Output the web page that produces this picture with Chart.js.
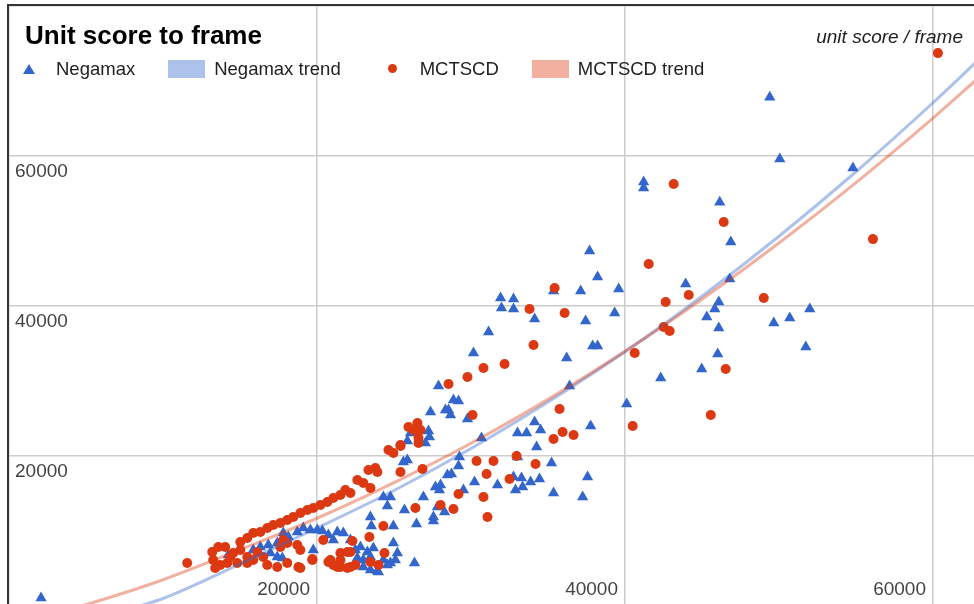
<!DOCTYPE html>
<html>
<head>
<meta charset="utf-8">
<script src="https://cdn.jsdelivr.net/npm/chart.js@4/dist/chart.umd.min.js"></script>
<style>
  html, body { margin:0; padding:0; background:#fff; overflow:hidden; width:974px; height:604px; }
  body { position:relative; font-family:'Liberation Sans', Arial, sans-serif; }
  #grafico { position:absolute; left:-3px; top:-14px; }
  .marco { position:absolute; left:7px; top:4px; right:-5px; bottom:-5px; border-left:2px solid #333; border-top:2px solid #333; pointer-events:none; }
  .titulo { position:absolute; left:25px; top:20px; font-size:26px; line-height:30px; font-weight:bold; color:#000; }
  .unidad { position:absolute; right:11px; top:22px; font-size:19px; line-height:30px; font-style:italic; color:#222; }
  .leyenda { position:absolute; left:10px; top:59px; height:19px; display:flex; align-items:center; font-size:18.5px; line-height:19px; color:#222; }
  .item { display:flex; align-items:center; margin-right:33px; white-space:nowrap; }
  .marca { width:37px; height:19px; display:flex; align-items:center; justify-content:center; margin-right:9px; }
  .triangulo { width:0; height:0; border-left:6.5px solid transparent; border-right:6.5px solid transparent; border-bottom:10px solid; }
  .punto { width:9px; height:9px; border-radius:50%; }
  .franja { width:37px; height:18px; }
</style>
</head>
<body>
<canvas id="grafico" width="977" height="640"></canvas>
<div class="marco"></div>
<div class="titulo">Unit score to frame</div>
<div class="unidad">unit score / frame</div>
<div class="leyenda" id="leyenda"></div>
<script>
// ticks y etiquetas de los ejes
const xTicks = [0, 20000, 40000, 60000];
const xTickLabels = ['20000', '40000', '60000'];
const yTickLabels = ['20000', '40000', '60000'];

// Negamax (triangulos)
const negamaxX = [2080, 49400, 50050, 54800, 46150, 46870, 41210, 41210, 37700, 38220, 37120, 39590, 43940, 46800, 39330,
  46090, 45830, 45310, 46090, 49660, 50700, 52000, 51740, 46020, 44980, 42320, 40110, 31920, 32760, 31980, 32760, 35360,
  34130, 37440, 31140, 30160, 37900, 38220, 36210, 27890, 36400, 28860, 29190, 28540, 28670, 27370, 29770, 25870, 27240,
  27300, 27040, 34130, 33020, 33610, 34520, 37770, 30680, 34260, 29250, 25610, 29190, 35230, 33020, 28730, 28020, 27950,
  30230, 31720, 32760, 33280, 33870, 34450, 32890, 33350, 35360, 37570, 37250, 26910, 29510, 24570, 23470, 23530, 24960,
  25680, 26460, 27560, 28280, 19570, 20350, 20740, 21320, 21710, 21060, 19760, 24960, 25220, 25090, 26330, 23920, 24570,
  14240, 15860, 16320, 16840, 17420, 17810, 18140, 18720, 19110, 20020, 22170, 16970, 17420, 17750, 22490, 22820, 23270,
  23660, 22620, 23010, 23470, 24310, 24770, 23010, 23470, 23990, 24310, 24770, 26070, 28340, 27690, 27820, 27560, 28470,
  25870];
const negamaxY = [1070, 67850, 59590, 58390, 53850, 48520, 56520, 55720, 47320, 43860, 41990, 42260, 42920, 43590, 39060,
  40520, 39590, 38520, 37060, 37720, 38390, 39590, 34520, 33590, 31590, 30390, 26930, 41060, 40920, 39720, 39590, 41990,
  38260, 37990, 36520, 33720, 34660, 34660, 33060, 29330, 29330, 27460, 27330, 26130, 25460, 25860, 24930, 22000, 23330,
  22530, 21730, 24530, 23060, 23060, 23460, 23990, 22400, 21200, 19860, 19200, 18660, 19060, 19860, 17600, 16130, 15460,
  16530, 16130, 17200, 17060, 16530, 16930, 15460, 15860, 15060, 17200, 14530, 14530, 15460, 13330, 11860, 10660, 10660,
  12800, 10930, 11330, 12530, 10130, 10000, 9460, 9860, 9730, 8800, 7460, 8400, 7060, 6130, 5730, 4670, 5470,
  6800, 7460, 7860, 8130, 8400, 9730, 9200, 9860, 10400, 10130, 8800, 7060, 6530, 6400, 7460, 7860, 7200,
  7730, 6400, 6130, 6530, 6130, 5730, 5200, 4800, 4530, 14530, 14530, 23060, 26130, 15860, 13200, 11860, 17460,
  19460];

// MCTSCD (circulos)
const mctscdX = [60320, 56100, 43160, 46410, 41540, 42640, 44140, 49010, 42510, 42900, 40630, 46540, 45570, 40500, 35430,
  33800, 36080, 34060, 32180, 30810, 29770, 28540, 30100, 25940, 26520, 26260, 26590, 26590, 25420, 35750, 35950, 36660,
  35360, 32960, 30360, 31460, 34190, 26850, 25420, 31010, 32500, 29190, 30810, 26390, 28020, 28860, 31070, 24310, 20410,
  22300, 23400, 24380, 18920, 19700, 20740, 21060, 21520, 21970, 21520, 21970, 22490, 23470, 23990, 18920, 21520, 11570,
  13200, 13590, 14040, 13260, 13720, 14370, 13390, 15020, 15470, 15860, 16320, 16770, 17160, 17620, 18070, 18460, 18920,
  19370, 19760, 20220, 20670, 21060, 21520, 21840, 22170, 22620, 23010, 23470, 23340, 23790, 23920, 24640, 24960, 25420,
  26720, 14560, 15470, 15860, 16120, 16510, 15470, 14820, 14170, 16770, 17420, 18070, 18790, 18070, 18720, 17620, 17810,
  19700, 20870, 22170, 21320, 22170, 15020];
const mctscdY = [73720, 48920, 56260, 51190, 45590, 40530, 41460, 41060, 37190, 36660, 33730, 31590, 25460, 24000, 42390,
  39590, 39060, 34790, 32260, 31730, 30530, 29590, 25460, 23860, 24390, 23460, 22400, 21730, 21330, 26260, 23200, 22800,
  22260, 20000, 19330, 19330, 18930, 18260, 17860, 17600, 16930, 14930, 14530, 13060, 13460, 12930, 11860, 10660, 8800,
  8660, 9200, 7060, 7460, 6260, 5860, 5470, 7060, 7200, 5200, 5070, 5470, 5860, 5470, 5070, 6130, 5730,
  7200, 7860, 7860, 6130, 5470, 6530, 5070, 8530, 9060, 9730, 9860, 10400, 10800, 11060, 11460, 11860, 12400,
  12800, 13060, 13460, 13860, 14400, 14800, 15460, 15060, 16800, 16400, 15730, 18130, 18400, 17860, 20800, 20400, 21460,
  23460, 7060, 6530, 6130, 7200, 6530, 5730, 5730, 5730, 5470, 5200, 5730, 5200, 8400, 8130, 7860, 8800,
  6130, 6130, 5200, 5200, 7200, 7460];

// lineas de tendencia
const trendX = [2000, 4000, 6000, 8000, 10000, 15000, 20000, 25000, 30000, 35000, 40000, 45000, 50000, 55000, 60000, 63000];
const negamaxTrendY = [-3900, -2700, -1500, -300, 1000, 5600, 10400, 15400, 21000, 27200, 33900, 41300, 49300, 57900, 67100, 72900];
const mctscdTrendY = [-1500, -400, 800, 2100, 3500, 7500, 11700, 16450, 21700, 27550, 33950, 40900, 48400, 56450, 65050, 70500];

function Puntos(xs, ys){
    return xs.map((x, i) => ({x: x, y: ys[i]}));
}

Chart.defaults.font.family = "'Liberation Sans', Arial, sans-serif";

const data = {
    datasets: [
        {
            label: 'Negamax',
            data: Puntos(negamaxX, negamaxY),
            pointStyle: 'triangle',
            pointRadius: 6.5,
            pointBorderWidth: 0,
            backgroundColor: '#3366cc',
            borderColor: '#3366cc',
            order: 4
        },
        {
            label: 'Negamax trend',
            data: Puntos(trendX, negamaxTrendY),
            showLine: true,
            pointRadius: 0,
            borderWidth: 3,
            borderColor: 'rgba(51, 102, 204, 0.4)',
            backgroundColor: 'rgba(51, 102, 204, 0.4)',
            cubicInterpolationMode: 'monotone',
            order: 2
        },
        {
            label: 'MCTSCD',
            data: Puntos(mctscdX, mctscdY),
            pointStyle: 'circle',
            pointRadius: 5,
            pointBorderWidth: 0,
            backgroundColor: '#dc3912',
            borderColor: '#dc3912',
            order: 3
        },
        {
            label: 'MCTSCD trend',
            data: Puntos(trendX, mctscdTrendY),
            showLine: true,
            pointRadius: 0,
            borderWidth: 3,
            borderColor: 'rgba(220, 57, 18, 0.4)',
            backgroundColor: 'rgba(220, 57, 18, 0.4)',
            cubicInterpolationMode: 'monotone',
            order: 1
        }
    ]
};

const grilla = { color: '#cccccc', lineWidth: 1.5, drawTicks: false };

const config = {
    type: 'scatter',
    data: data,
    options: {
        responsive: false,
        animation: false,
        devicePixelRatio: 1,
        events: [],
        layout: { autoPadding: false, padding: { left: 0, right: 0, top: 20, bottom: 20 } },
        plugins: { legend: { display: false }, tooltip: { enabled: false } },
        scales: {
            x: {
                type: 'linear',
                position: { y: 0 },     // eje sobre y=0, etiquetas hacia adentro con padding negativo
                min: 0,
                max: 62662,
                bounds: 'data',
                grid: grilla,
                border: { display: false },
                // el max no es multiplo de 20000, asi que fijo los ticks a mano
                afterBuildTicks: (scale) => { scale.ticks = xTicks.map((v) => ({ value: v })); },
                ticks: {
                    autoSkip: false,
                    maxRotation: 0,
                    align: 'end',
                    labelOffset: -7,
                    padding: -28,
                    color: '#444',
                    font: { size: 19 },
                    callback: (v) => xTickLabels.includes(String(v)) ? String(v) : ''
                }
            },
            y: {
                min: 0,
                max: 80000,
                bounds: 'data',
                grid: grilla,
                border: { display: false },
                ticks: {
                    stepSize: 20000,
                    mirror: true,
                    padding: 6,
                    labelOffset: 16,
                    color: '#444',
                    font: { size: 19 },
                    callback: (v) => yTickLabels.includes(String(v)) ? String(v) : ''
                }
            }
        }
    }
};

const myChart = new Chart(document.getElementById('grafico'), config);

// leyenda en html armada desde los datasets
const leyenda = document.getElementById('leyenda');
myChart.data.datasets.forEach((ds) => {
    const item = document.createElement('div');
    item.className = 'item';
    const marca = document.createElement('div');
    marca.className = 'marca';
    const simbolo = document.createElement('div');
    if (ds.showLine) {
        simbolo.className = 'franja';
        simbolo.style.background = ds.borderColor;
    } else if (ds.pointStyle === 'triangle') {
        simbolo.className = 'triangulo';
        simbolo.style.borderBottomColor = ds.backgroundColor;
    } else {
        simbolo.className = 'punto';
        simbolo.style.background = ds.backgroundColor;
    }
    marca.appendChild(simbolo);
    const texto = document.createElement('span');
    texto.textContent = ds.label;
    item.appendChild(marca);
    item.appendChild(texto);
    leyenda.appendChild(item);
});
</script>
</body>
</html>
